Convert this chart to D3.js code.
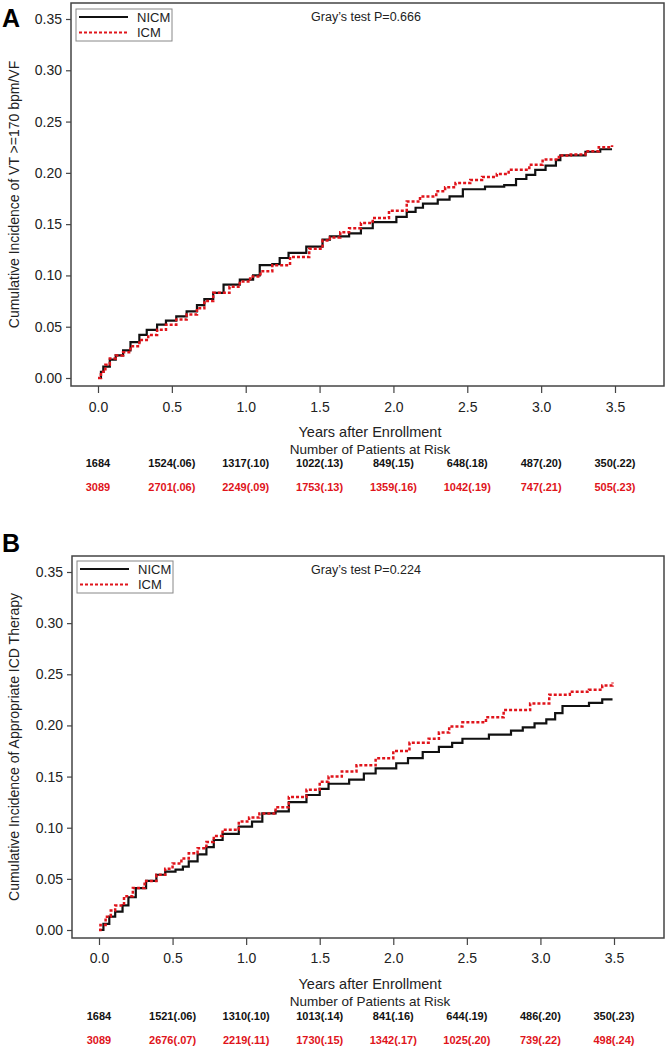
<!DOCTYPE html>
<html>
<head>
<meta charset="utf-8">
<script src="https://d3js.org/d3.v7.min.js"></script>
<style>
  body { margin: 0; background: #fff; }
  text { font-family: "Liberation Sans", Arial, sans-serif; }
</style>
</head>
<body>
<div id="chart"></div>
<script>
// Curve data: [years, cumulative incidence]
var aNICM = [[0,0],[0.02,0.006],[0.036,0.011],[0.08,0.018],[0.12,0.022],[0.17,0.027],[0.22,0.035],[0.28,0.042],[0.33,0.047],[0.40,0.052],[0.46,0.056],[0.53,0.060],[0.60,0.065],[0.67,0.071],[0.72,0.077],[0.78,0.083],[0.85,0.091],[0.96,0.096],[1.05,0.100],[1.095,0.110],[1.18,0.111],[1.23,0.117],[1.29,0.122],[1.41,0.128],[1.52,0.135],[1.57,0.138],[1.70,0.141],[1.78,0.146],[1.86,0.152],[2.02,0.157],[2.09,0.162],[2.15,0.166],[2.20,0.170],[2.30,0.174],[2.38,0.177],[2.47,0.184],[2.62,0.1865],[2.75,0.188],[2.83,0.194],[2.90,0.198],[2.96,0.203],[3.03,0.207],[3.10,0.2125],[3.13,0.217],[3.30,0.2206],[3.40,0.223],[3.48,0.223]];
var aICM = [[0,0],[0.02,0.006],[0.05,0.013],[0.08,0.019],[0.12,0.022],[0.17,0.025],[0.22,0.031],[0.28,0.037],[0.34,0.042],[0.40,0.047],[0.46,0.052],[0.53,0.057],[0.60,0.062],[0.67,0.068],[0.72,0.075],[0.78,0.083],[0.89,0.089],[0.96,0.094],[1.03,0.099],[1.10,0.104],[1.18,0.110],[1.30,0.118],[1.43,0.126],[1.52,0.134],[1.57,0.137],[1.64,0.142],[1.70,0.146],[1.78,0.151],[1.86,0.156],[1.97,0.163],[2.09,0.172],[2.18,0.177],[2.29,0.182],[2.35,0.186],[2.42,0.190],[2.52,0.193],[2.60,0.196],[2.70,0.199],[2.78,0.203],[2.92,0.208],[3.01,0.213],[3.12,0.217],[3.20,0.218],[3.30,0.221],[3.39,0.225],[3.48,0.227]];
var bNICM = [[0,0],[0.03,0.006],[0.07,0.013],[0.11,0.018],[0.16,0.024],[0.20,0.032],[0.25,0.041],[0.32,0.048],[0.39,0.054],[0.45,0.057],[0.52,0.059],[0.57,0.062],[0.61,0.067],[0.67,0.074],[0.73,0.081],[0.78,0.088],[0.84,0.094],[0.95,0.101],[1.04,0.106],[1.11,0.114],[1.20,0.116],[1.29,0.125],[1.41,0.132],[1.50,0.138],[1.56,0.143],[1.70,0.147],[1.80,0.153],[1.88,0.158],[2.02,0.163],[2.10,0.168],[2.20,0.174],[2.31,0.179],[2.40,0.183],[2.47,0.187],[2.65,0.191],[2.80,0.195],[2.88,0.198],[2.96,0.202],[3.04,0.206],[3.10,0.212],[3.15,0.219],[3.33,0.222],[3.42,0.2255],[3.49,0.2255]];
var bICM = [[0,0],[0.01,0.005],[0.045,0.013],[0.08,0.019],[0.11,0.024],[0.17,0.033],[0.23,0.041],[0.31,0.048],[0.39,0.054],[0.45,0.060],[0.50,0.065],[0.56,0.070],[0.61,0.075],[0.67,0.080],[0.73,0.086],[0.78,0.092],[0.84,0.098],[0.95,0.106],[1.02,0.110],[1.09,0.114],[1.20,0.120],[1.29,0.130],[1.41,0.137],[1.50,0.145],[1.56,0.150],[1.65,0.155],[1.75,0.161],[1.88,0.168],[2.00,0.175],[2.11,0.183],[2.24,0.187],[2.31,0.193],[2.38,0.199],[2.47,0.203],[2.63,0.208],[2.75,0.215],[2.93,0.2215],[3.06,0.230],[3.20,0.233],[3.33,0.235],[3.42,0.239],[3.49,0.242]];

// Ticks and risk table
var xTicks = [0, 0.5, 1.0, 1.5, 2.0, 2.5, 3.0, 3.5];
var yTicks = [0, 0.05, 0.10, 0.15, 0.20, 0.25, 0.30, 0.35];
var riskA_NICM = ["1684", "1524(.06)", "1317(.10)", "1022(.13)", "849(.15)", "648(.18)", "487(.20)", "350(.22)"];
var riskA_ICM = ["3089", "2701(.06)", "2249(.09)", "1753(.13)", "1359(.16)", "1042(.19)", "747(.21)", "505(.23)"];
var riskB_NICM = ["1684", "1521(.06)", "1310(.10)", "1013(.14)", "841(.16)", "644(.19)", "486(.20)", "350(.23)"];
var riskB_ICM = ["3089", "2676(.07)", "2219(.11)", "1730(.15)", "1342(.17)", "1025(.20)", "739(.22)", "498(.24)"];
var seriesNames = ["NICM", "ICM"];

var svgWidth = 671;
var svgHeight = 1050;
var red = "#e0141b";

var svg = d3.select("#chart")
  .append("svg")
  .attr("width", svgWidth)
  .attr("height", svgHeight);

function drawPanel(p) {
  var g = svg.append("g");

  var x = d3.scaleLinear().domain([0, 3.5]).range([p.x0, p.x1]);
  var y = d3.scaleLinear().domain([0, 0.35]).range([p.y0, p.y1]);

  // panel letter
  g.append("text")
    .attr("x", 2)
    .attr("y", p.letterY)
    .style("font-size", "25px")
    .style("font-weight", "bold")
    .text(p.letter);

  // frame
  g.append("rect")
    .attr("x", p.left)
    .attr("y", p.top)
    .attr("width", p.right - p.left)
    .attr("height", p.bottom - p.top)
    .attr("fill", "none")
    .attr("stroke", "#444")
    .attr("stroke-width", 1.5);

  // y axis
  var leftAxis = d3.axisLeft(y).tickValues(yTicks).tickFormat(d3.format(".2f")).tickSize(5).tickPadding(4);
  var ya = g.append("g")
    .attr("transform", "translate(" + p.left + ",0)")
    .call(leftAxis);
  ya.select(".domain").remove();
  ya.selectAll("line").attr("stroke", "#444").attr("stroke-width", 1.2);
  ya.selectAll("text").style("font-size", "14px").attr("fill", "#222")
    .style("font-family", "'Liberation Sans', Arial, sans-serif");

  // x axis
  var bottomAxis = d3.axisBottom(x).tickValues(xTicks).tickFormat(d3.format(".1f")).tickSize(7).tickPadding(p.xPad);
  var xa = g.append("g")
    .attr("transform", "translate(0," + p.bottom + ")")
    .call(bottomAxis);
  xa.select(".domain").remove();
  xa.selectAll("line").attr("stroke", "#444").attr("stroke-width", 1.2);
  xa.selectAll("text").style("font-size", "14px").attr("fill", "#222")
    .style("font-family", "'Liberation Sans', Arial, sans-serif");

  // y label
  g.append("text")
    .attr("transform", "translate(19," + ((p.top + p.bottom) / 2) + ") rotate(-90)")
    .attr("text-anchor", "middle")
    .style("font-size", "14px")
    .attr("fill", "#222")
    .text(p.yLabel);

  // curves
  var line = d3.line()
    .x(function(d) { return x(d[0]); })
    .y(function(d) { return y(d[1]); })
    .curve(d3.curveStepAfter);

  g.append("path")
    .datum(p.nicm)
    .attr("d", line)
    .attr("fill", "none")
    .attr("stroke", "#111")
    .attr("stroke-width", 2.2);

  g.append("path")
    .datum(p.icm)
    .attr("d", line)
    .attr("fill", "none")
    .attr("stroke", red)
    .attr("stroke-width", 2.5)
    .attr("stroke-dasharray", "3,2");

  // legend
  var lg = g.append("g");
  lg.append("rect")
    .attr("x", p.left + 5)
    .attr("y", p.legY)
    .attr("width", 96)
    .attr("height", 32)
    .attr("fill", "#fff")
    .attr("stroke", "#888")
    .attr("stroke-width", 1);
  lg.selectAll(".legline")
    .data(seriesNames)
    .enter()
    .append("line")
    .attr("x1", p.left + 8)
    .attr("x2", p.left + 57)
    .attr("y1", function(d, i) { return p.legY + 8 + i * 15.5; })
    .attr("y2", function(d, i) { return p.legY + 8 + i * 15.5; })
    .attr("stroke", function(d, i) { return i == 0 ? "#111" : red; })
    .attr("stroke-width", function(d, i) { return i == 0 ? 2 : 2.2; })
    .attr("stroke-dasharray", function(d, i) { return i == 0 ? null : "3,2"; });
  lg.selectAll(".legtext")
    .data(seriesNames)
    .enter()
    .append("text")
    .attr("x", p.left + 66)
    .attr("y", function(d, i) { return p.legY + 12.5 + i * 15.5; })
    .style("font-size", "13px")
    .attr("fill", "#222")
    .text(function(d) { return d; });

  // Gray's test
  g.append("text")
    .attr("x", 366)
    .attr("y", p.top + 18)
    .attr("text-anchor", "middle")
    .style("font-size", "12.5px")
    .attr("fill", "#222")
    .text(p.pText);

  // axis titles
  g.append("text")
    .attr("x", 370)
    .attr("y", p.titleY)
    .attr("text-anchor", "middle")
    .style("font-size", "14.5px")
    .attr("fill", "#222")
    .text("Years after Enrollment");
  g.append("text")
    .attr("x", 370)
    .attr("y", p.titleY + 17)
    .attr("text-anchor", "middle")
    .style("font-size", "13.5px")
    .attr("fill", "#222")
    .text("Number of Patients at Risk");

  // risk table
  g.selectAll(".r1")
    .data(p.risk1)
    .enter()
    .append("text")
    .attr("x", function(d, i) { return x(xTicks[i]); })
    .attr("y", p.riskY)
    .attr("text-anchor", "middle")
    .style("font-size", "11px")
    .style("font-weight", "bold")
    .attr("fill", "#111")
    .text(function(d) { return d; });
  g.selectAll(".r2")
    .data(p.risk2)
    .enter()
    .append("text")
    .attr("x", function(d, i) { return x(xTicks[i]); })
    .attr("y", p.riskY + 24)
    .attr("text-anchor", "middle")
    .style("font-size", "11px")
    .style("font-weight", "bold")
    .attr("fill", red)
    .text(function(d) { return d; });
}

drawPanel({
  letter: "A", letterY: 27,
  left: 71, right: 664, top: 3, bottom: 386,
  x0: 98, x1: 615, y0: 378, y1: 19, xPad: 9,
  legY: 9,
  yLabel: "Cumulative Incidence of VT >=170 bpm/VF",
  pText: "Gray\u2019s test P=0.666",
  titleY: 437, riskY: 467,
  nicm: aNICM, icm: aICM,
  risk1: riskA_NICM, risk2: riskA_ICM
});

drawPanel({
  letter: "B", letterY: 552,
  left: 72, right: 664, top: 556, bottom: 938,
  x0: 99, x1: 614, y0: 930, y1: 572, xPad: 8,
  legY: 561,
  yLabel: "Cumulative Incidence of Appropriate ICD Therapy",
  pText: "Gray\u2019s test P=0.224",
  titleY: 989, riskY: 1020,
  nicm: bNICM, icm: bICM,
  risk1: riskB_NICM, risk2: riskB_ICM
});
</script>
</body>
</html>
